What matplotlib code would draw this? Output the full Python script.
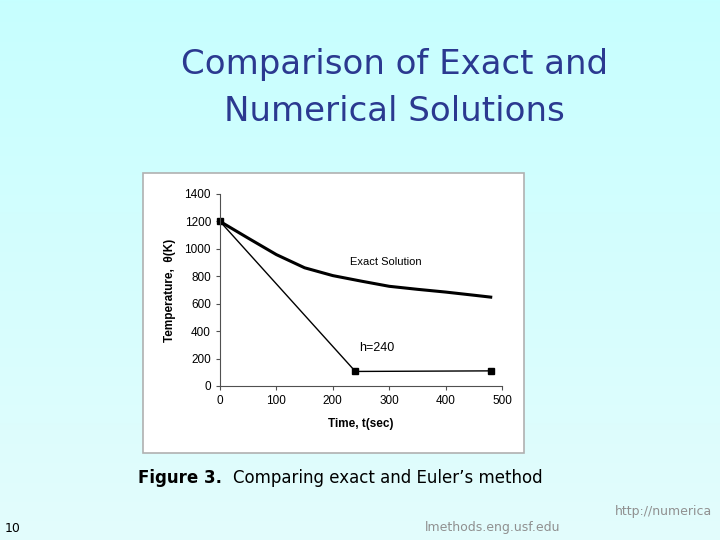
import numpy as np
import matplotlib.pyplot as plt
from matplotlib.patches import Rectangle

# exact solution
t_exact = [0, 50, 100, 150, 200, 250, 300, 350, 400, 450, 480]
theta_exact = [1200, 1078, 958, 862, 805, 765, 727, 705, 685, 662, 648]

# Euler's method, h = 240
t_euler = [0, 240, 480]
theta_euler = [1200, 106.09, 110.32]

x_ticks = [0, 100, 200, 300, 400, 500]
y_ticks = [0, 200, 400, 600, 800, 1000, 1200, 1400]

fig = plt.figure(figsize=(7.2, 5.4), dpi=100)

# slide background gradient
bg = fig.add_axes([0, 0, 1, 1], zorder=-10)
grad = np.linspace(0, 1, 256).reshape(-1, 1)
top = np.array([0.78, 1.0, 1.0])
bottom = np.array([0.89, 0.99, 0.99])
img = top + (bottom - top) * grad[:, :, None]
bg.imshow(img, aspect='auto', extent=[0, 1, 0, 1])
bg.set_xlim(0, 1)
bg.set_ylim(0, 1)
bg.axis('off')

# white chart panel
bg.add_patch(Rectangle((143 / 720, 1 - 453 / 540), 381 / 720, 280 / 540,
                       facecolor='white', edgecolor='#b0b0b0', lw=1.2))

title_color = '#2b3990'
fig.text(0.548, 0.88, "Comparison of Exact and", ha='center', va='center',
         fontsize=24.5, color=title_color, family='DejaVu Sans')
fig.text(0.548, 0.793, "Numerical Solutions", ha='center', va='center',
         fontsize=24.5, color=title_color, family='DejaVu Sans')

ax = fig.add_axes([220 / 720, 1 - 386 / 540, 282 / 720, 192 / 540])
ax.patch.set_alpha(0)
ax.plot(t_exact, theta_exact, color='black', lw=2.2)
ax.plot(t_euler, theta_euler, color='black', lw=1, marker='s', markersize=5,
        clip_on=False)
ax.set_xlim(0, 500)
ax.set_ylim(0, 1400)
ax.set_xticks(x_ticks)
ax.set_yticks(y_ticks)
for s in ['top', 'right']:
    ax.spines[s].set_visible(False)
for s in ['left', 'bottom']:
    ax.spines[s].set_color('#505050')
    ax.spines[s].set_linewidth(0.8)
ax.tick_params(colors='#505050', length=3, width=0.8, labelsize=8.5,
               labelcolor='black')
for lab in ax.get_xticklabels() + ax.get_yticklabels():
    lab.set_family('Liberation Sans')
ax.set_xlabel("Time, t(sec)", fontsize=8.5, fontweight='bold',
              family='Liberation Sans', labelpad=8)
ax.set_ylabel("Temperature,  θ(K)", fontsize=8.5, fontweight='bold',
              family='Liberation Sans', labelpad=6)
ax.text(294, 904, "Exact Solution", ha='center', va='center', fontsize=8,
        family='Liberation Sans')
ax.text(278, 277, "h=240", ha='center', va='center', fontsize=9,
        family='Liberation Sans')

# caption and footer
fig.text(138 / 720, 1 - 478 / 540, "Figure 3.", ha='left', va='center',
         fontsize=12, fontweight='bold', family='DejaVu Sans')
fig.text(233 / 720, 1 - 478 / 540, "Comparing exact and Euler’s method",
         ha='left', va='center', fontsize=12, family='DejaVu Sans')
fig.text(5 / 720, 1 - 528 / 540, "10", ha='left', va='center', fontsize=9,
         family='DejaVu Sans')
fig.text(712 / 720, 1 - 512 / 540, "http://numerica", ha='right', va='center',
         fontsize=9, color='#909090', family='DejaVu Sans')
fig.text(560 / 720, 1 - 527 / 540, "lmethods.eng.usf.edu", ha='right',
         va='center', fontsize=9, color='#909090', family='DejaVu Sans')

fig.savefig("out.png", dpi=100)
